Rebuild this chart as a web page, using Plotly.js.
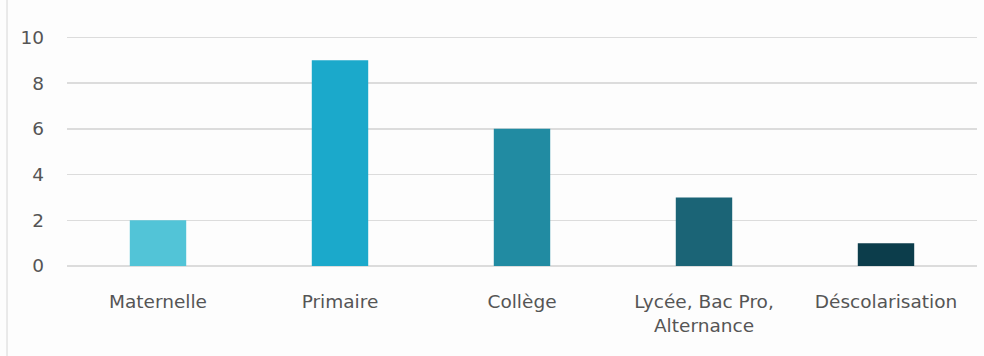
<!DOCTYPE html>
<html>
<head>
<meta charset="utf-8">
<script src="https://cdn.plot.ly/plotly-3.0.1.min.js"></script>
<style>
html,body{margin:0;padding:0;background:#fdfdfd;}
#chart{width:984px;height:356px;}
</style>
</head>
<body>
<div id="chart"></div>
<script>
const categories = ["Maternelle", "Primaire", "Collège", "Lycée, Bac Pro,<br>Alternance", "Déscolarisation"];
const values = [2, 9, 6, 3, 1];
const barColors = ["#52c4d7", "#1ba9cb", "#218ba2", "#1b6476", "#0c3d4b"];
const yTicks = [0, 2, 4, 6, 8, 10];

const trace = {
  type: "bar",
  x: categories,
  y: values,
  marker: { color: barColors, line: { width: 0 } },
  hoverinfo: "none"
};

const layout = {
  width: 984,
  height: 356,
  margin: { l: 67, r: 7, t: 34.7, b: 90 },
  paper_bgcolor: "#fdfdfd",
  plot_bgcolor: "#fdfdfd",
  bargap: 0.69,
  showlegend: false,
  font: { family: "DejaVu Sans, sans-serif", color: "#555555", size: 18 },
  xaxis: {
    type: "category",
    showgrid: false,
    showline: false,
    zeroline: false,
    ticks: "",
    ticklabelstandoff: 22,
    tickfont: { size: 18.5, color: "#555555" }
  },
  yaxis: {
    range: [0, 10.1],
    tickvals: yTicks,
    ticktext: yTicks.map(String),
    showgrid: true,
    gridcolor: "#dcdcdc",
    gridwidth: 1.5,
    zeroline: true,
    zerolinecolor: "#dcdcdc",
    zerolinewidth: 1.5,
    showline: false,
    ticks: "",
    ticklabelstandoff: 22,
    tickfont: { size: 18.5, color: "#555555" }
  },
  shapes: [{
    type: "line", xref: "paper", yref: "paper",
    x0: -60/910, x1: -60/910, y0: -1, y1: 2,
    line: { color: "#d6d6d6", width: 1 }
  }]
};

Plotly.newPlot("chart", [trace], layout, { staticPlot: true, displayModeBar: false });
</script>
</body>
</html>
